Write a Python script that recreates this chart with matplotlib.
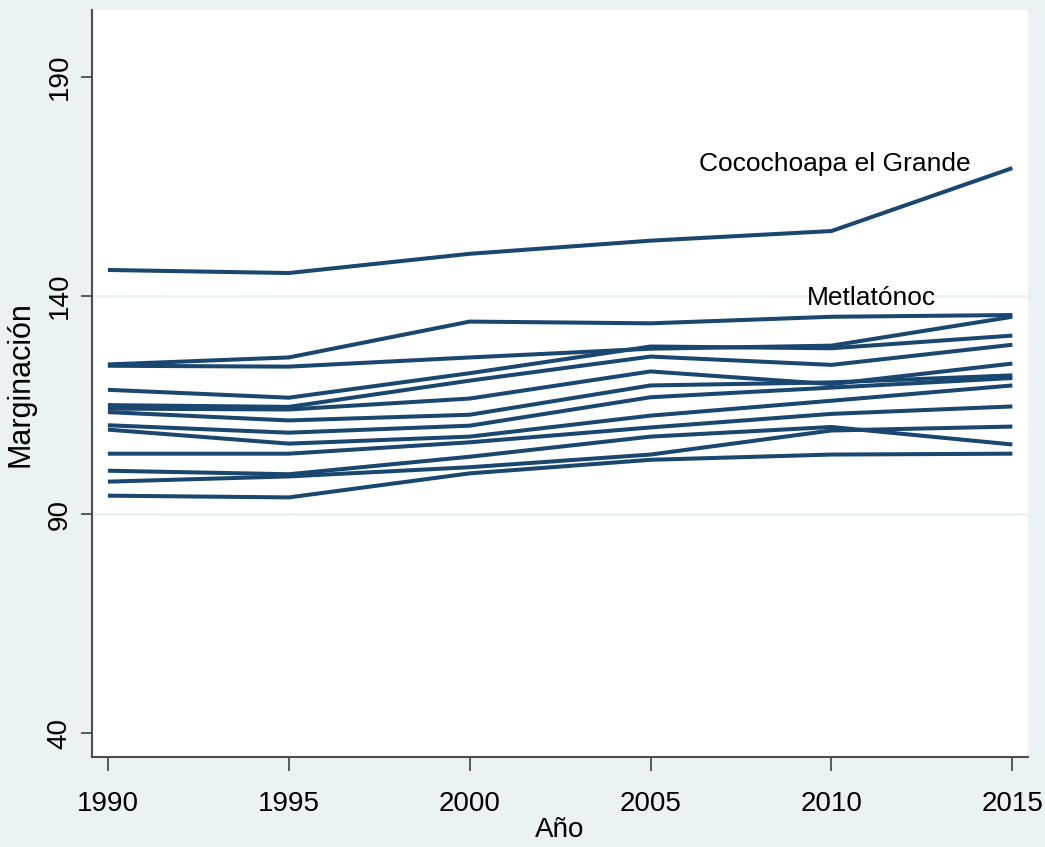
import matplotlib
matplotlib.use("Agg")
import matplotlib.pyplot as plt

# Years on the x axis
years = [1990, 1995, 2000, 2005, 2010, 2015]

# Marginación index per municipality
cocochoapa = [145.9, 145.2, 149.6, 152.6, 154.8, 169.2]
metlatonoc = [124.3, 125.9, 134.1, 133.7, 135.2, 135.6]
others = [
    [124.0, 123.8, 125.9, 127.9, 128.6, 135.2],
    [118.5, 116.7, 122.3, 128.4, 128.0, 130.9],
    [115.0, 114.6, 120.6, 126.1, 124.2, 128.8],
    [114.2, 114.0, 116.5, 122.7, 119.8, 124.5],
    [113.4, 111.5, 112.8, 119.5, 120.2, 121.8],
    [110.4, 108.7, 110.3, 116.8, 119.0, 121.2],
    [109.4, 106.2, 107.8, 112.6, 116.0, 119.5],
    [103.9, 103.9, 106.5, 109.9, 113.0, 114.7],
    [100.0, 99.2, 103.2, 107.8, 110.0, 106.0],
    [97.5, 98.7, 100.8, 103.7, 109.2, 110.1],
    [94.3, 93.9, 99.4, 102.5, 103.7, 103.9],
]

y_ticks = [40, 90, 140, 190]

navy = "#1a476f"
bg = "#eaf2f3"

plt.rcParams["font.family"] = ["Liberation Sans", "DejaVu Sans"]

fig = plt.figure(figsize=(10.45, 8.47), dpi=100, facecolor=bg)
ax = fig.add_axes([0.088, 0.106, 0.896, 0.882])
ax.set_facecolor("white")

for vals in [cocochoapa, metlatonoc] + others:
    ax.plot(years, vals, color=navy, linewidth=2.9, solid_capstyle="butt", zorder=3)

ax.text(2010.1, 170.1, "Cocochoapa el Grande", fontsize=19,
        ha="center", va="center", color="black", zorder=4)
ax.text(2011.1, 139.6, "Metlatónoc", fontsize=19,
        ha="center", va="center", color="black", zorder=4)

ax.set_xlim(1989.56, 2015.44)
ax.set_ylim(34.5, 205.3)
ax.set_xticks(years)
ax.set_yticks(y_ticks)
ax.set_yticklabels([str(t) for t in y_ticks], rotation=90, va="center", fontsize=20)
ax.set_xticklabels([str(y) for y in years], fontsize=20)

for g in [90, 140]:
    ax.axhline(g, color=bg, linewidth=2, zorder=1)

for s in ["top", "right"]:
    ax.spines[s].set_visible(False)
for s in ["left", "bottom"]:
    ax.spines[s].set_color("#4d4d4d")
    ax.spines[s].set_linewidth(1.5)

ax.tick_params(axis="x", length=10, width=1.3, color="#4d4d4d", pad=14)
ax.tick_params(axis="y", length=8, width=1.3, color="#4d4d4d", pad=6)

ax.set_xlabel("Año", fontsize=20, labelpad=0)
ax.set_ylabel("Marginación", fontsize=22, labelpad=8)

fig.savefig("out.png", dpi=100, facecolor=bg)
